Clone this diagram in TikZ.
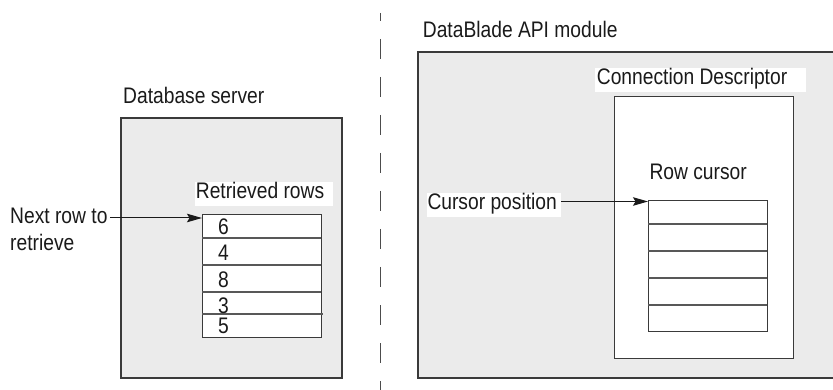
\documentclass[tikz,border=0pt]{standalone}
\usepackage{fontspec}
\setmainfont{Liberation Sans}[FakeStretch=0.855]
\usetikzlibrary{arrows.meta}
\definecolor{panel}{HTML}{EBEBEB}
\definecolor{edge}{HTML}{3A3A3A}
\definecolor{ink}{HTML}{1A1A1A}
\begin{document}
\begin{tikzpicture}[x=1pt,y=-1pt,
  font=\fontsize{22.5}{27}\selectfont,
  lbl/.style={inner sep=0pt, anchor=base west, text=ink},
  framebox/.style={draw=edge, line width=1.2pt},
  rowline/.style={draw=edge!85, line width=1.1pt},
  arr/.style={draw=ink, line width=1pt, -{Stealth[length=15pt,width=8.5pt,inset=2.5pt]}},
  sep/.style={draw=gray!60!black, line width=1pt, dash pattern=on 20pt off 18pt, dash phase=12pt}]
\useasboundingbox (0,0) rectangle (833,390);

% separator
\draw[sep] (380,13) -- (380,390);

% ---------- left: database server ----------
\node[lbl] (dbs) at (123,103.3) {Database server};
\filldraw[framebox, fill=panel] (121,118) rectangle (342,378);
\fill[white] (195,182) rectangle (333,206);
\node[lbl] (retr) at (195.7,198.3) {Retrieved rows};
\node[framebox, fill=white, anchor=north west, inner sep=0pt,
      minimum width=119pt, minimum height=123pt] (rows) at (202,214) {};
\draw[rowline] (202,238) -- (321,238);
\draw[rowline] (202,265) -- (321,265);
\draw[rowline] (202,292) -- (321,292);
\draw[rowline] (202,314) -- (323,314);
\node[lbl] (r6) at (218,235) {6};
\node[lbl] (r4) at (218,260.7) {4};
\node[lbl] (r8) at (218,287.3) {8};
\node[lbl] (r3) at (218,313.3) {3};
\node[lbl] (r5) at (218,334) {5};

\node[lbl] (next1) at (10,224) {Next row to};
\node[lbl] (next2) at (10,250.7) {retrieve};
\coordinate (nextstart) at (110,218);
\coordinate (rowsin) at (202,218);
\draw[arr] (nextstart) -- (rowsin);

% ---------- right: DataBlade API module ----------
\node[lbl] (dbapi) at (422.7,37.3) {DataBlade API module};
\fill[panel] (418,52) rectangle (833,378);
\draw[framebox] (834,52) -- (418,52) -- (418,378) -- (834,378);
\fill[white] (595,68) rectangle (806,92);
\node[lbl] (conn) at (596.7,84.3) {Connection Descriptor};
\node[framebox, fill=white, anchor=north west, inner sep=0pt,
      minimum width=179pt, minimum height=262pt] (cd) at (614,96) {};
\node[lbl] (rc) at (649.3,180) {Row cursor};
\node[framebox, fill=white, anchor=north west, inner sep=0pt,
      minimum width=119pt, minimum height=131pt] (cur) at (648,200) {};
\draw[rowline] (648,224) -- (767,224);
\draw[rowline] (648,251) -- (767,251);
\draw[rowline] (648,278) -- (767,278);
\draw[rowline] (648,305) -- (767,305);

\fill[white] (427,193) rectangle (561,217);
\node[lbl] (cpos) at (427.3,209.3) {Cursor position};
\coordinate (cposend) at (561,201.5);
\coordinate (curin) at (648,201.5);
\draw[arr] (cposend) -- (curin);
\end{tikzpicture}
\end{document}
